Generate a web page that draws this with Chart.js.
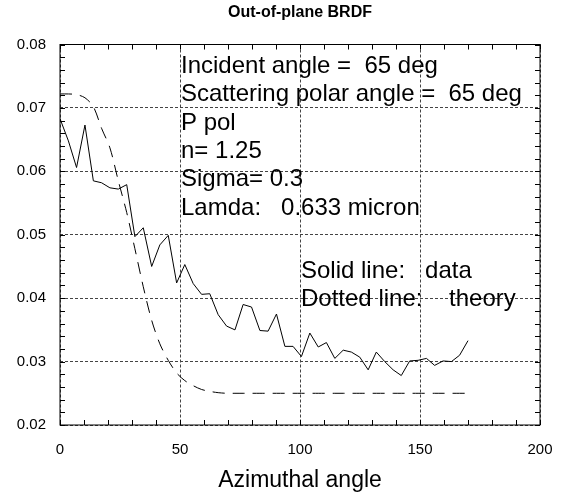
<!DOCTYPE html>
<html>
<head>
<meta charset="utf-8">
<script src="https://cdn.jsdelivr.net/npm/chart.js@4/dist/chart.umd.min.js"></script>
<style>
  html, body { margin: 0; padding: 0; background: #fff; }
  #wrap { width: 562px; height: 495px; }
</style>
</head>
<body>
<div id="wrap"><canvas id="brdf"></canvas></div>
<script>
// ── Data ──────────────────────────────────────────────────────────────────────

const azimuth = [
    0, 3.5, 6.9, 10.4, 13.9, 17.3, 20.8, 24.3, 27.8, 31.2,
    34.7, 38.2, 41.6, 45.1, 48.6, 52.0, 55.5, 59.0, 62.4, 65.9,
    69.4, 72.9, 76.3, 79.8, 83.3, 86.7, 90.2, 93.7, 97.1, 100.6,
    104.1, 107.6, 111.0, 114.5, 118.0, 121.4, 124.9, 128.4, 131.8, 135.3,
    138.8, 142.2, 145.7, 149.2, 152.7, 156.1, 159.6, 163.1, 166.5, 170
];

const measured = [
    0.0683, 0.0648, 0.0606, 0.0673, 0.0585, 0.0582, 0.0574, 0.0572, 0.0579, 0.0497,
    0.0511, 0.0450, 0.0484, 0.0499, 0.0424, 0.0453, 0.0423, 0.0406, 0.0407, 0.0374,
    0.0356, 0.0350, 0.0390, 0.0386, 0.0349, 0.0348, 0.0375, 0.0324, 0.0324, 0.0308,
    0.0345, 0.0323, 0.0330, 0.0305, 0.0318, 0.0315, 0.0307, 0.0287, 0.0315, 0.0300,
    0.0287, 0.0278, 0.0301, 0.0302, 0.0305, 0.0294, 0.0301, 0.0300, 0.0310, 0.0333
];

const theory = [
    0.0722, 0.0722, 0.0721, 0.0716, 0.0702, 0.0668, 0.0637, 0.0585, 0.0535, 0.0478,
    0.0418, 0.0365, 0.0328, 0.0302, 0.0282, 0.0270, 0.0262, 0.0256, 0.0253, 0.0251,
    0.0250, 0.0250, 0.0250, 0.0250, 0.0250, 0.0250, 0.0250, 0.0250, 0.0250, 0.0250,
    0.0250, 0.0250, 0.0250, 0.0250, 0.0250, 0.0250, 0.0250, 0.0250, 0.0250, 0.0250,
    0.0250, 0.0250, 0.0250, 0.0250, 0.0250, 0.0250, 0.0250, 0.0250, 0.0250, 0.0250
];

const xTicks = [0, 50, 100, 150, 200];
const yTicks = [0.02, 0.03, 0.04, 0.05, 0.06, 0.07, 0.08];

const chartTitle = "Out-of-plane BRDF";

// notes, left edge at azimuth 50 and 100
const notesLeft = [
    "Incident angle =  65 deg",
    "Scattering polar angle =  65 deg",
    "P pol",
    "n= 1.25",
    "Sigma= 0.3",
    "Lamda:   0.633 micron"
];
const notesRight = [
    "Solid line:   data",
    "Dotted line:    theory"
];

// ── Helpers ───────────────────────────────────────────────────────────────────

const FONT = "'Liberation Sans', Arial, Helvetica, sans-serif";

function toPoints(xs, ys) {
    return xs.map((x, i) => ({ x, y: ys[i] }));
}

// frame, inward ticks on all four sides, title and text notes
const framePlugin = {
    id: "frame",
    afterDatasetsDraw(chart) {
        const { ctx, chartArea: a, scales: { x, y } } = chart;
        ctx.save();
        ctx.strokeStyle = "#000";
        ctx.lineWidth = 1;
        ctx.strokeRect(a.left, a.top, a.right - a.left, a.bottom - a.top);

        const len = 5;
        ctx.beginPath();
        for (let v = 0; v <= 200; v += 10) {
            const px = Math.round(x.getPixelForValue(v)) + 0.5;
            ctx.moveTo(px, a.bottom); ctx.lineTo(px, a.bottom - len);
            ctx.moveTo(px, a.top);    ctx.lineTo(px, a.top + len);
        }
        for (let k = 0; k <= 30; k++) {
            const py = Math.round(y.getPixelForValue(0.02 + k * 0.002)) + 0.5;
            ctx.moveTo(a.left, py);  ctx.lineTo(a.left + len, py);
            ctx.moveTo(a.right, py); ctx.lineTo(a.right - len, py);
        }
        ctx.stroke();

        ctx.fillStyle = "#000";
        ctx.textBaseline = "middle";

        ctx.font = "bold 16px " + FONT;
        ctx.textAlign = "center";
        ctx.fillText(chartTitle, (a.left + a.right) / 2, 13);

        ctx.font = "24px " + FONT;
        ctx.textAlign = "left";
        const lx = x.getPixelForValue(50) + 1;
        notesLeft.forEach((t, i) => ctx.fillText(t, lx, 66.5 + i * 28.3));
        const rx = x.getPixelForValue(100) + 1;
        notesRight.forEach((t, i) => ctx.fillText(t, rx, 271 + i * 28.5));
        ctx.restore();
    }
};

// ── Chart ─────────────────────────────────────────────────────────────────────

Chart.defaults.font.family = FONT;
Chart.defaults.color = "#000";

new Chart(document.getElementById("brdf"), {
    type: "line",
    data: {
        datasets: [
            {
                label: "data",
                data: toPoints(azimuth, measured),
                borderColor: "#000",
                borderWidth: 1,
                pointRadius: 0,
                tension: 0,
                fill: false
            },
            {
                label: "theory",
                data: toPoints(azimuth, theory),
                borderColor: "#000",
                borderWidth: 1,
                borderDash: [12, 8],
                pointRadius: 0,
                tension: 0.3,
                fill: false
            }
        ]
    },
    options: {
        responsive: true,
        maintainAspectRatio: false,
        animation: false,
        layout: { padding: { left: 0, right: 22, top: 44.5, bottom: 0 } },
        plugins: {
            legend: { display: false },
            tooltip: { enabled: false },
            title: { display: false }
        },
        scales: {
            x: {
                type: "linear",
                min: 0,
                max: 200,
                afterBuildTicks: s => { s.ticks = xTicks.map(v => ({ value: v })); },
                afterFit: s => {
                    s.height = 70;
                    s.paddingLeft = 0;
                    s.paddingRight = 0;
                },
                ticks: {
                    font: { size: 15, family: FONT },
                    padding: 16,
                    maxRotation: 0
                },
                grid: {
                    color: "#444",
                    lineWidth: 1,
                    drawTicks: false
                },
                border: { display: false, dash: [3, 2] },
                title: {
                    display: true,
                    text: "Azimuthal angle",
                    font: { size: 23, family: FONT, lineHeight: 1.2 },
                    padding: { top: 4, bottom: 1 }
                }
            },
            y: {
                min: 0.02,
                max: 0.08,
                afterBuildTicks: s => { s.ticks = yTicks.map(v => ({ value: v })); },
                afterFit: s => {
                    s.width = 60;
                    s.paddingTop = 0;
                    s.paddingBottom = 0;
                },
                ticks: {
                    font: { size: 15, family: FONT },
                    padding: 14,
                    callback: v => v.toFixed(2)
                },
                grid: {
                    color: "#444",
                    lineWidth: 1,
                    drawTicks: false
                },
                border: { display: false, dash: [3, 2] }
            }
        }
    },
    plugins: [framePlugin]
});
</script>
</body>
</html>
